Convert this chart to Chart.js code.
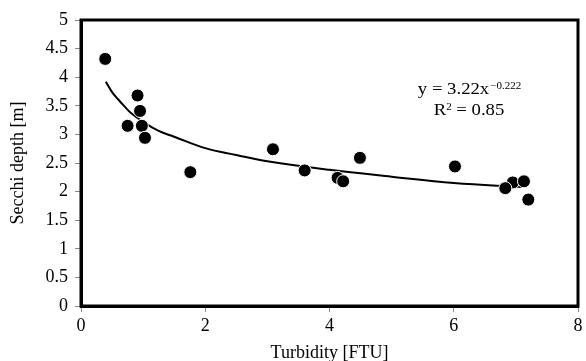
<!DOCTYPE html>
<html><head><meta charset="utf-8">
<script src="https://cdn.jsdelivr.net/npm/chart.js@4/dist/chart.umd.min.js"></script>
<style>html,body{margin:0;padding:0;background:#fff;}#wrap{width:586px;height:361px;position:relative;}</style>
</head><body><div id="wrap"><canvas id="c"></canvas></div>
<script>
const turbidity = [0.39, 0.91, 0.95, 0.75, 0.98, 1.03, 1.76, 3.09, 3.60, 4.13, 4.22, 4.49, 6.02, 6.95, 6.83, 7.13, 7.20];
const secchi    = [4.32, 3.68, 3.41, 3.15, 3.15, 2.94, 2.34, 2.74, 2.37, 2.24, 2.18, 2.59, 2.44, 2.16, 2.06, 2.18, 1.86];
const trendX = [0.4, 0.5, 0.6, 0.7, 0.8, 1.0, 1.25, 1.5, 2.0, 2.5, 3.0, 4.0, 5.0, 6.0, 7.1];
const trendY = [3.92, 3.74, 3.61, 3.49, 3.38, 3.22, 3.06, 2.96, 2.76, 2.64, 2.53, 2.38, 2.26, 2.15, 2.08];
const xTicks = [0, 2, 4, 6, 8];
const yTicks = [0, 0.5, 1, 1.5, 2, 2.5, 3, 3.5, 4, 4.5, 5];
const equationParts = ['y = 3.22x', '\u22120.222', 'R', '2', ' = 0.85'];

const FONT = 'Liberation Serif';
const framePlugin = {
  id: 'frame',
  afterDatasetsDraw(chart) {
    const {ctx, chartArea: a} = chart;
    ctx.save();
    ctx.strokeStyle = '#000';
    ctx.lineWidth = 3;
    ctx.strokeRect(a.left, a.top, a.right - a.left, a.bottom - a.top);
    ctx.restore();
    // equation text, slightly stretched horizontally like the reference
    ctx.save();
    const sx = 1.1, cx = 469;
    ctx.translate(cx, 0);
    ctx.scale(sx, 1);
    ctx.fillStyle = '#000';
    ctx.textBaseline = 'alphabetic';
    const big = '17px "' + FONT + '"', small = '10px "' + FONT + '"';
    ctx.font = big;
    const w1 = ctx.measureText(equationParts[0]).width;
    ctx.font = small;
    const w2 = ctx.measureText(equationParts[1]).width;
    let x0 = -(w1 + w2) / 2;
    ctx.font = big; ctx.fillText(equationParts[0], x0, 94);
    ctx.font = small; ctx.fillText(equationParts[1], x0 + w1 + 1, 89);
    ctx.font = big;
    const r1 = ctx.measureText(equationParts[2]).width;
    const r3 = ctx.measureText(equationParts[4]).width;
    ctx.font = small;
    const r2 = ctx.measureText(equationParts[3]).width;
    x0 = -(r1 + r2 + r3) / 2;
    ctx.font = big; ctx.fillText(equationParts[2], x0, 115);
    ctx.font = small; ctx.fillText(equationParts[3], x0 + r1, 110);
    ctx.font = big; ctx.fillText(equationParts[4], x0 + r1 + r2, 115);
    ctx.restore();
  }
};

new Chart(document.getElementById('c'), {
  type: 'scatter',
  data: {
    datasets: [
      {
        type: 'line',
        data: trendX.map((x, i) => ({x, y: trendY[i]})),
        borderColor: '#000',
        borderWidth: 2,
        pointRadius: 0,
        tension: 0.4,
        fill: false,
        order: 1
      },
      {
        data: turbidity.map((x, i) => ({x, y: secchi[i]})),
        backgroundColor: '#000',
        borderColor: '#fff',
        borderWidth: 1,
        pointRadius: 6.5,
        pointHoverRadius: 6.5,
        order: 0
      }
    ]
  },
  options: {
    responsive: true,
    maintainAspectRatio: false,
    animation: false,
    events: [],
    layout: {padding: {top: 20, right: 8, left: 0, bottom: 0}},
    plugins: {legend: {display: false}, tooltip: {enabled: false}},
    scales: {
      x: {
        type: 'linear', min: 0, max: 8,
        afterBuildTicks: s => { s.ticks = xTicks.map(v => ({value: v})); },
        afterFit: s => { s.height = 55; },
        grid: {display: true, drawOnChartArea: false, drawTicks: true, tickLength: 6, color: '#888', tickColor: '#888'},
        border: {display: true, color: '#000', width: 3},
        ticks: {color: '#000', font: {family: FONT, size: 18}, padding: 3, maxRotation: 0, callback: v => String(v)},
        title: {display: true, text: 'Turbidity [FTU]', color: '#000', font: {family: FONT, size: 18}, padding: {top: 0, bottom: -3}}
      },
      y: {
        type: 'linear', min: 0, max: 5,
        afterBuildTicks: s => { s.ticks = yTicks.map(v => ({value: v})); },
        afterFit: s => { s.width = 81; },
        grid: {display: true, drawOnChartArea: false, drawTicks: true, tickLength: 6, color: '#888', tickColor: '#888'},
        border: {display: true, color: '#000', width: 3},
        ticks: {color: '#000', font: {family: FONT, size: 18}, padding: 7, callback: v => String(v)},
        title: {display: true, text: 'Secchi depth [m]', color: '#000', font: {family: FONT, size: 18}, padding: {top: 7, bottom: 0}}
      }
    }
  },
  plugins: [framePlugin]
});
</script></body></html>
